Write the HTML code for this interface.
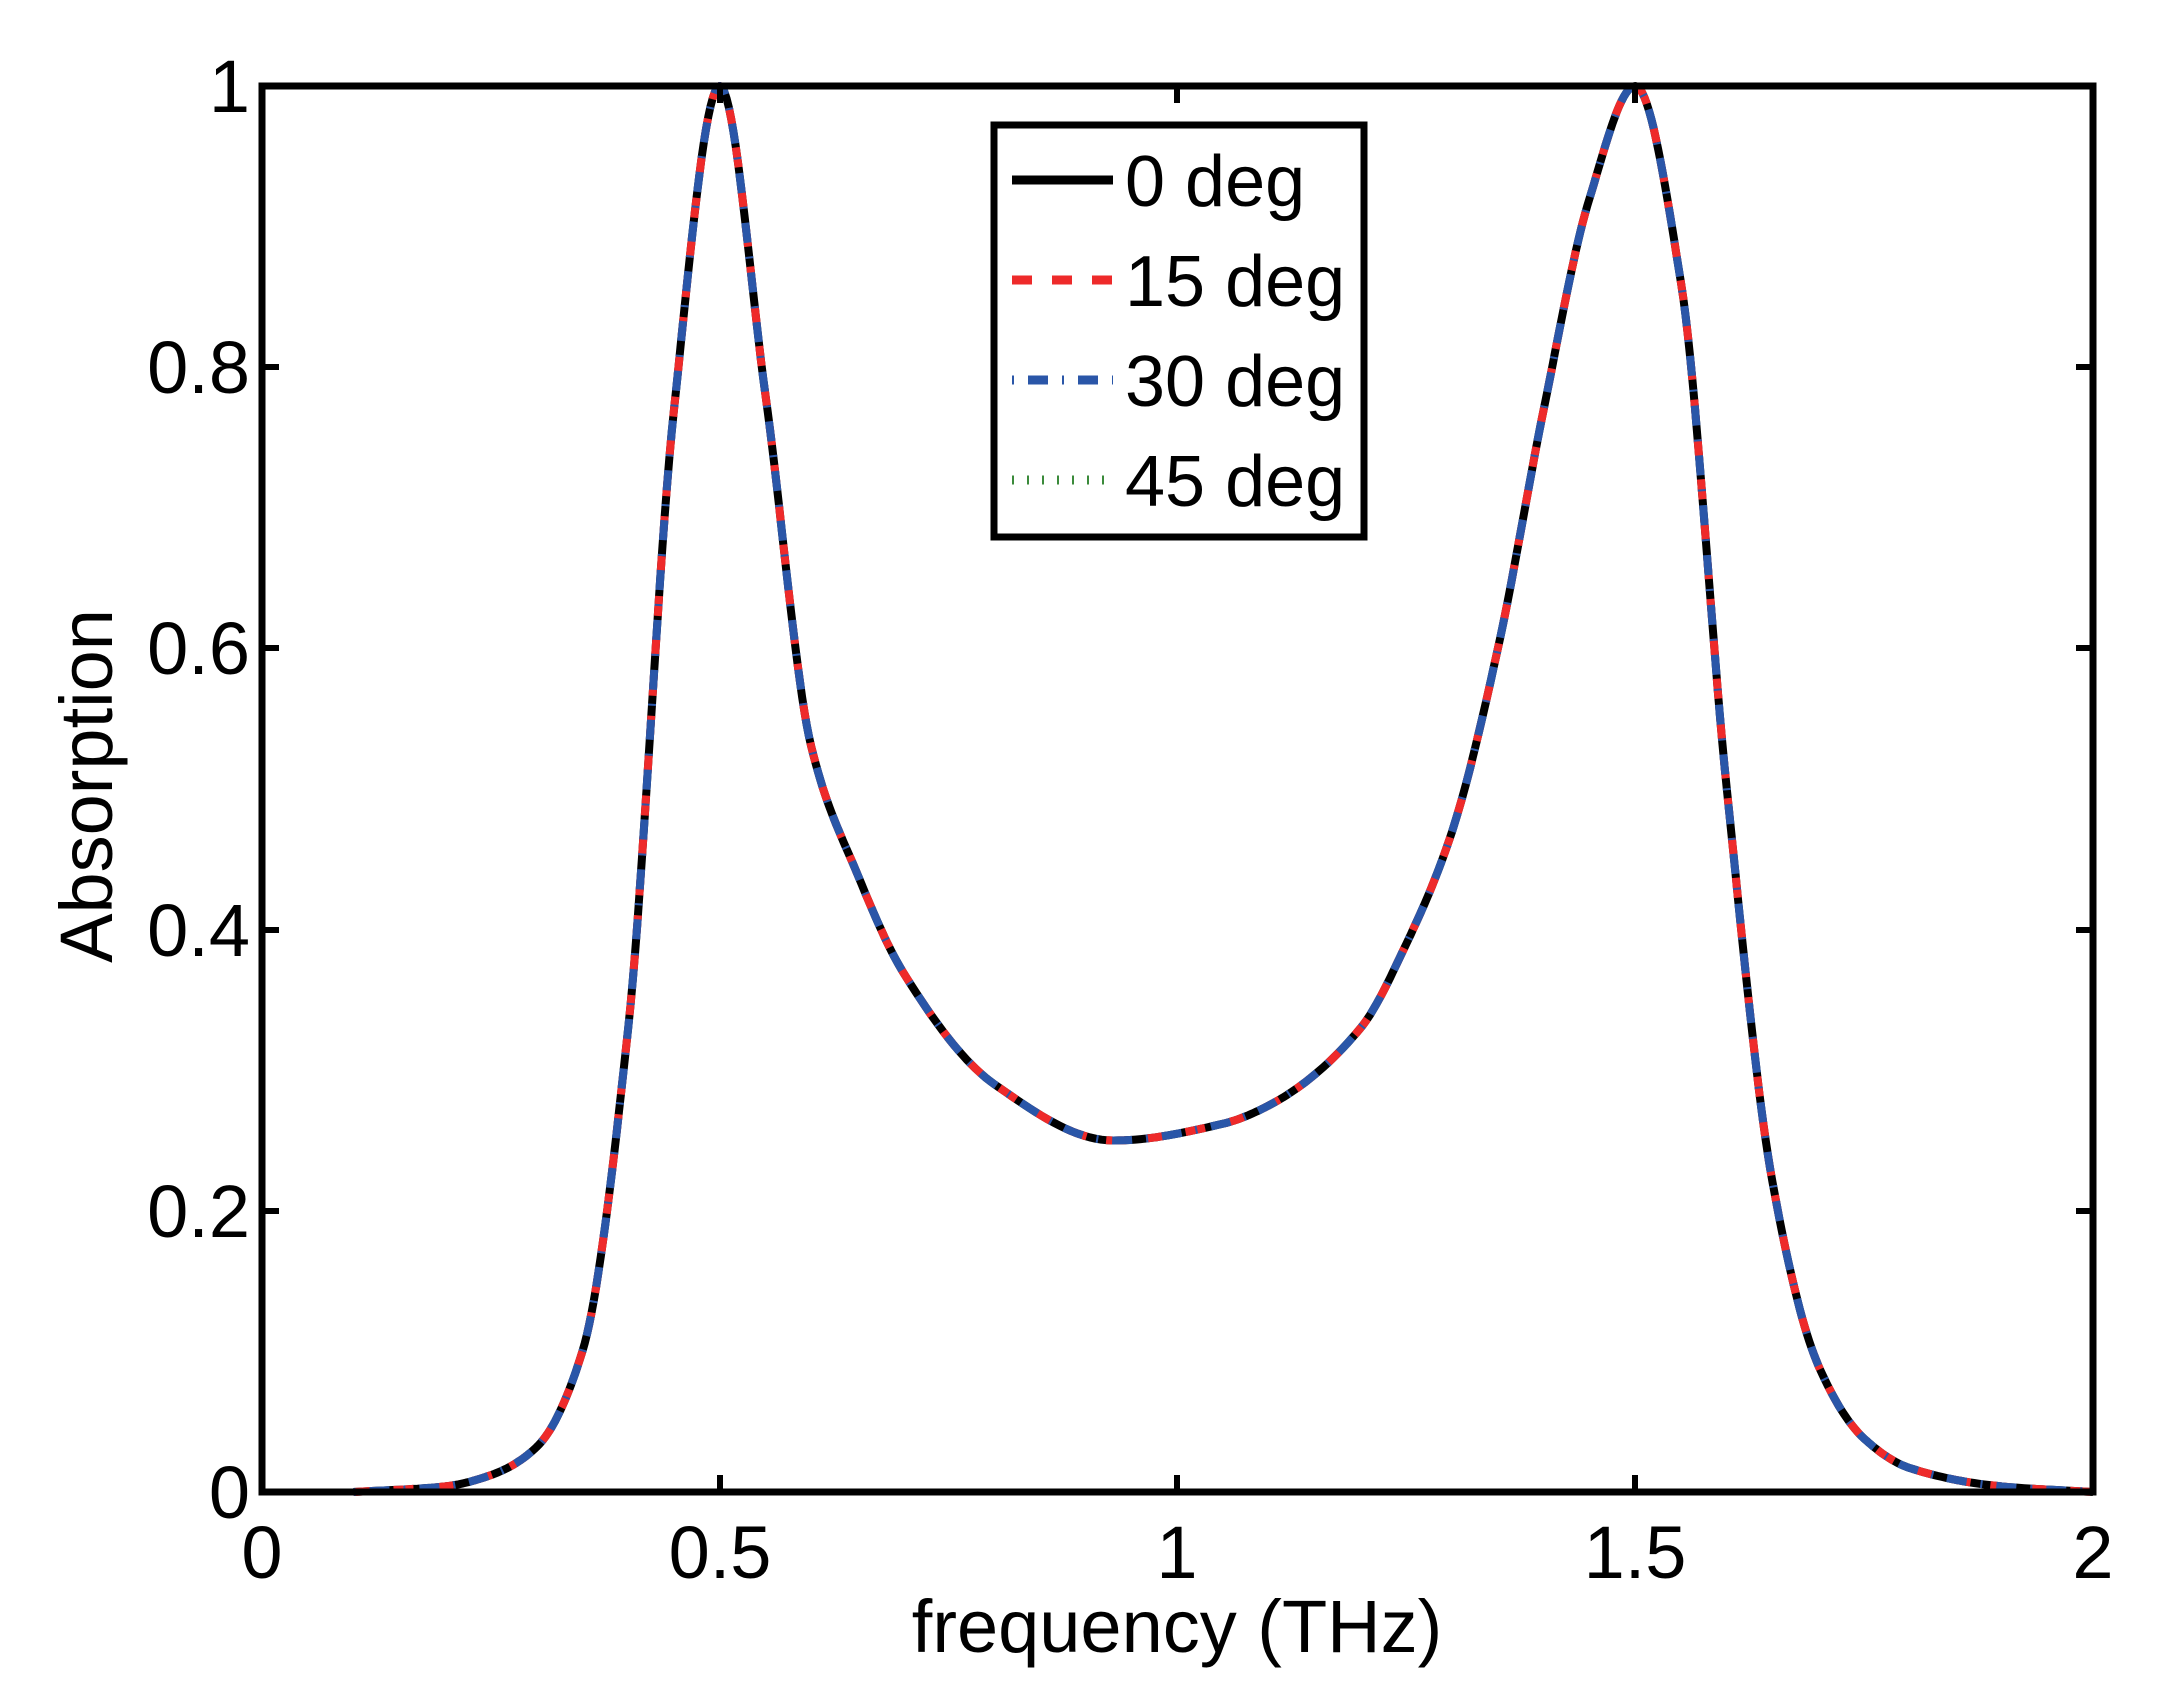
<!DOCTYPE html>
<html><head><meta charset="utf-8"><style>
html,body{margin:0;padding:0;background:#fff;}
svg{display:block;}
text{font-family:"Liberation Sans",sans-serif;fill:#000;}
</style></head><body>
<svg id="s" width="2170" height="1700" viewBox="0 0 2170 1700" xmlns="http://www.w3.org/2000/svg">
<g id="curves"></g>
<rect x="262" y="86" width="1831" height="1406" fill="none" stroke="#000" stroke-width="7"/>
<g stroke="#000" stroke-width="6">
<line x1="720" y1="1492" x2="720" y2="1475"/><line x1="1177" y1="1492" x2="1177" y2="1475"/><line x1="1635" y1="1492" x2="1635" y2="1475"/>
<line x1="720" y1="86" x2="720" y2="103"/><line x1="1177" y1="86" x2="1177" y2="103"/><line x1="1635" y1="86" x2="1635" y2="103"/>
<line x1="262" y1="1211" x2="279" y2="1211"/><line x1="262" y1="930" x2="279" y2="930"/><line x1="262" y1="648" x2="279" y2="648"/><line x1="262" y1="367" x2="279" y2="367"/>
<line x1="2093" y1="1211" x2="2076" y2="1211"/><line x1="2093" y1="930" x2="2076" y2="930"/><line x1="2093" y1="648" x2="2076" y2="648"/><line x1="2093" y1="367" x2="2076" y2="367"/>
</g>
<g font-size="74" text-anchor="end">
<text x="250" y="1518">0</text><text x="250" y="1237">0.2</text><text x="250" y="956">0.4</text><text x="250" y="674">0.6</text><text x="250" y="393">0.8</text><text x="250" y="112">1</text>
</g>
<g font-size="74" text-anchor="middle">
<text x="262" y="1578">0</text><text x="720" y="1578">0.5</text><text x="1177" y="1578">1</text><text x="1635" y="1578">1.5</text><text x="2093" y="1578">2</text>
<text x="1177" y="1652">frequency (THz)</text>
<text transform="translate(112,786) rotate(-90)">Absorption</text>
</g>
<rect x="994" y="125" width="370" height="412" fill="#fff" stroke="#000" stroke-width="7"/>
<line x1="1012" y1="180" x2="1113" y2="180" stroke="#000" stroke-width="9"/>
<line x1="1012" y1="280" x2="1113" y2="280" stroke="#ee2a2a" stroke-width="9" stroke-dasharray="20,20"/>
<line x1="1012" y1="380" x2="1113" y2="380" stroke="#2a56a8" stroke-width="9" stroke-dasharray="2,14,20,14"/>
<line x1="1012" y1="480" x2="1113" y2="480" stroke="#3a8a3a" stroke-width="9" stroke-dasharray="2,13"/>
<g font-size="72">
<text x="1125" y="206">0 deg</text><text x="1125" y="306">15 deg</text><text x="1125" y="406">30 deg</text><text x="1125" y="506">45 deg</text>
</g>
</svg>
<script>
var P=[[0.1,0],[0.2,0.004],[0.25,0.012],[0.3,0.032],[0.35,0.1],[0.4,0.33],[0.45,0.77],[0.5,1.0],[0.55,0.78],[0.6,0.53],[0.65,0.44],[0.7,0.37],[0.8,0.29],[0.93,0.25],[1.05,0.262],[1.1,0.275],[1.2,0.33],[1.25,0.39],[1.3,0.47],[1.35,0.6],[1.4,0.77],[1.45,0.92],[1.5,1.0],[1.55,0.86],[1.6,0.5],[1.65,0.22],[1.7,0.09],[1.75,0.038],[1.8,0.017],[1.9,0.004],[2.0,0]];
var n=P.length,dl=[],m=[];
for(var i=0;i<n-1;i++)dl.push((P[i+1][1]-P[i][1])/(P[i+1][0]-P[i][0]));
m[0]=dl[0];m[n-1]=dl[n-2];
for(var i=1;i<n-1;i++){if(dl[i-1]*dl[i]<=0)m[i]=0;else{var h0=P[i][0]-P[i-1][0],h1=P[i+1][0]-P[i][0];var w1=2*h1+h0,w2=h1+2*h0;m[i]=(w1+w2)/(w1/dl[i-1]+w2/dl[i]);}}
function X(f){return 262+f*915.5;}function Y(a){return 1492-a*1406;}
var pts=[];
for(var i=0;i<n-1;i++){var x0=P[i][0],x1=P[i+1][0],y0=P[i][1],y1=P[i+1][1],h=x1-x0;
for(var k=0;k<20;k++){var t=k/20,t2=t*t,t3=t2*t;
var y=(2*t3-3*t2+1)*y0+(t3-2*t2+t)*h*m[i]+(-2*t3+3*t2)*y1+(t3-t2)*h*m[i+1];
pts.push(X(x0+t*h).toFixed(1)+","+Y(y).toFixed(1));}}
pts.push(X(2)+","+Y(0));
var d="M"+pts.join(" L");
var g=document.getElementById("curves");
[["#000","none"],["#ee2a2a","20,20"],["#2a56a8","2,14,20,14"]].forEach(function(s){
var e=document.createElementNS("http://www.w3.org/2000/svg","path");e.setAttribute("d",d);e.setAttribute("fill","none");
e.setAttribute("stroke",s[0]);e.setAttribute("stroke-width","8");e.setAttribute("stroke-linejoin","round");if(s[1]!="none")e.setAttribute("stroke-dasharray",s[1]);g.appendChild(e);});
</script>
</body></html>
